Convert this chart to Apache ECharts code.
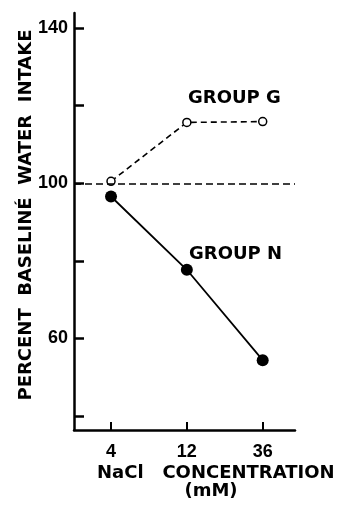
<!DOCTYPE html>
<html>
<head>
<meta charset="utf-8">
<script src="https://cdn.jsdelivr.net/npm/echarts@6/dist/echarts.min.js"></script>
<style>
  html, body { margin: 0; padding: 0; background: #fff; }
  #chart { width: 344px; height: 506px; }
</style>
</head>
<body>
<div id="chart"></div>
<script>
// ---- data ----
const xCategories = ['4', '12', '36'];
const groupGValues = [100.5, 115.7, 115.9];
const groupNValues = [96.6, 77.7, 54.4];
const yTickValues = [40, 60, 80, 100, 120, 140];
const yLabelValues = [60, 100, 140];
const baselineValue = 100;
const seriesNames = ['GROUP G', 'GROUP N'];
const yAxisTitle = 'PERCENT  BASELINÉ  WATER  INTAKE';
const xAxisTitle = 'NaCl   CONCENTRATION';
const xAxisUnit = '(mM)';

const xIdx = xCategories.map((_, i) => i);
const gData = groupGValues.map((v, i) => [i, v]);
const nData = groupNValues.map((v, i) => [i, v]);

const chart = echarts.init(document.getElementById('chart'), null, { renderer: 'canvas' });
const numFont = { fontFamily: 'Liberation Sans', fontWeight: 'bold', fontSize: 18, color: '#000' };

chart.setOption({
  animation: false,
  backgroundColor: '#fff',
  grid: { left: 74, right: 49, top: 13, bottom: 76, containLabel: false },
  xAxis: {
    type: 'value',
    min: -0.488,
    max: 2.426,
    splitLine: { show: false },
    axisLine: { show: true, onZero: false, lineStyle: { color: '#000', width: 2.5 } },
    axisTick: { show: true, inside: true, length: 8, lineStyle: { color: '#000', width: 2 }, customValues: xIdx },
    axisLabel: Object.assign({ customValues: xIdx, margin: 13, formatter: v => xCategories[Math.round(v)] }, numFont)
  },
  yAxis: {
    type: 'value',
    min: 36.4,
    max: 143.9,
    splitLine: { show: false },
    axisLine: { show: true, onZero: false, lineStyle: { color: '#000', width: 2.5 } },
    axisTick: { show: true, inside: true, length: 10, lineStyle: { color: '#000', width: 2.5 }, customValues: yTickValues },
    axisLabel: Object.assign({ customValues: yLabelValues, margin: 6 }, numFont)
  },
  series: [
    {
      name: seriesNames[0],
      type: 'line',
      data: gData,
      symbol: 'circle',
      symbolSize: 8,
      z: 3,
      itemStyle: { color: '#fff', borderColor: '#000', borderWidth: 1.5 },
      lineStyle: { color: '#000', width: 1.6, type: [6, 4] },
      markLine: {
        silent: true,
        symbol: 'none',
        label: { show: false },
        lineStyle: { color: '#000', width: 1.6, type: [7, 4] },
        data: [{ yAxis: baselineValue }]
      }
    },
    {
      name: seriesNames[1],
      type: 'line',
      data: nData,
      symbol: 'circle',
      symbolSize: 12,
      z: 3,
      itemStyle: { color: '#000' },
      lineStyle: { color: '#000', width: 1.8 }
    }
  ],
  graphic: [
    {
      type: 'text', x: 26, y: 215, rotation: Math.PI / 2,
      style: { text: yAxisTitle, font: 'bold 18px "DejaVu Sans"', fill: '#000', align: 'center', verticalAlign: 'middle' }
    },
    {
      type: 'text', x: 188, y: 98,
      style: { text: seriesNames[0], font: 'bold 18px "DejaVu Sans"', fill: '#000', align: 'left', verticalAlign: 'middle' }
    },
    {
      type: 'text', x: 189, y: 254,
      style: { text: seriesNames[1], font: 'bold 18px "DejaVu Sans"', fill: '#000', align: 'left', verticalAlign: 'middle' }
    },
    {
      type: 'text', x: 97, y: 473,
      style: { text: xAxisTitle, font: 'bold 18px "DejaVu Sans"', fill: '#000', align: 'left', verticalAlign: 'middle' }
    },
    {
      type: 'text', x: 211, y: 491,
      style: { text: xAxisUnit, font: 'bold 18px "DejaVu Sans"', fill: '#000', align: 'center', verticalAlign: 'middle' }
    }
  ]
});
</script>
</body>
</html>
